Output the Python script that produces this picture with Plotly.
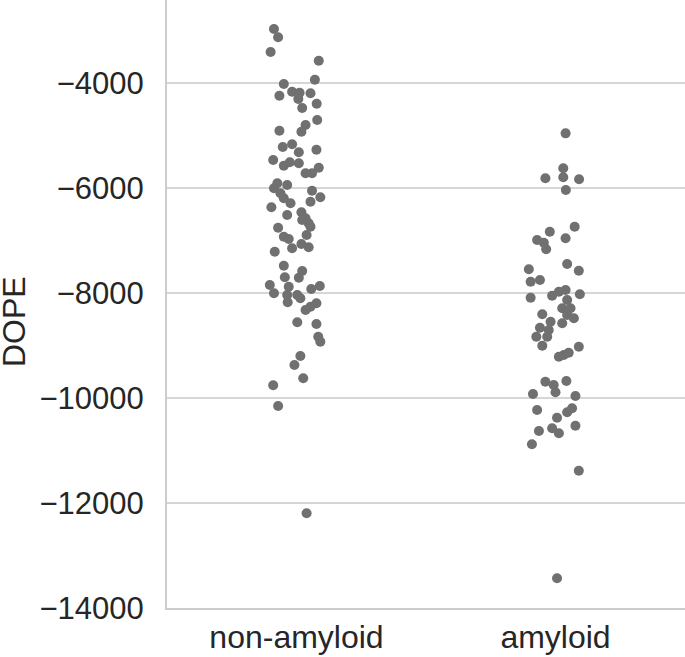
import plotly.graph_objects as go

categories = ["non-amyloid", "amyloid"]

nonamyloid_dope = [-2971, -3130, -3410, -3575, -3937, -4019, -4166, -4185, -4242, -4196,
                   -4305, -4394, -4476, -4705, -4800, -4928, -4909, -5219, -5168, -5320,
                   -5270, -5467, -5575, -5510, -5530, -5613, -5720, -5720, -5911, -5943,
                   -6006, -6101, -6196, -6291, -6051, -6177, -6261, -6368, -6514, -6463,
                   -6577, -6672, -6610, -6756, -6737, -6928, -6971, -6895, -7067, -7149,
                   -7130, -7213, -7480, -7581, -7709, -7701, -7848, -8006, -7880, -7924,
                   -7867, -8038, -8038, -8101, -8177, -8196, -8261, -8324, -8558, -8591,
                   -8833, -8928, -9200, -9372, -9625, -9758, -10152, -12196]
nonamyloid_jitter = [-0.087, -0.071, -0.100, 0.086, 0.071, -0.049, -0.017, 0.012, -0.066, 0.054,
                     0.007, 0.078, 0.022, 0.080, 0.035, 0.019, -0.066, -0.053, -0.017, 0.009,
                     0.077, -0.090, -0.049, -0.026, 0.009, 0.086, 0.035, 0.060, -0.074, -0.036,
                     -0.087, -0.062, -0.049, -0.023, 0.060, 0.092, 0.054, -0.097, -0.036, 0.019,
                     0.035, 0.047, 0.022, -0.071, 0.054, -0.049, -0.030, 0.039, 0.019, -0.017,
                     0.047, -0.084, -0.049, 0.022, 0.009, -0.045, -0.103, -0.087, -0.030, 0.057,
                     0.090, -0.036, 0.003, 0.015, -0.034, 0.077, 0.054, 0.035, 0.003, 0.077,
                     0.084, 0.092, 0.015, -0.008, 0.026, -0.090, -0.071, 0.039]

amyloid_dope = [-4959, -5625, -5796, -5815, -5834, -6038, -6737, -6832, -6990, -7042,
                -6958, -7168, -7448, -7549, -7575, -7785, -7752, -8090, -8051, -7975,
                -7943, -8025, -8133, -8291, -8291, -8419, -8482, -8406, -8547, -8577,
                -8661, -8705, -8832, -8832, -9004, -9023, -9213, -9181, -9137, -9690,
                -9752, -9676, -9924, -9892, -9962, -10229, -10196, -10272, -10375, -10528,
                -10629, -10577, -10672, -10882, -11385, -13434]
amyloid_jitter = [0.039, 0.030, 0.030, -0.039, 0.091, 0.040, 0.074, -0.022, -0.071, -0.045,
                  0.039, -0.036, 0.045, -0.103, 0.090, -0.096, -0.060, -0.096, -0.013, 0.013,
                  0.039, 0.094, 0.045, 0.026, 0.058, 0.045, 0.071, -0.051, -0.019, 0.026,
                  -0.060, -0.026, -0.032, -0.074, -0.051, 0.090, 0.013, 0.032, 0.051, -0.039,
                  -0.007, 0.042, -0.087, 0.000, 0.077, -0.071, 0.064, 0.045, 0.006, 0.077,
                  -0.064, -0.013, 0.013, -0.091, 0.090, 0.006]

y_tick_values = [-14000, -12000, -10000, -8000, -6000, -4000]
y_tick_labels = ["\u221214000", "\u221212000", "\u221210000", "\u22128000", "\u22126000", "\u22124000"]
y_axis_title = "DOPE"

groups = [(nonamyloid_dope, nonamyloid_jitter), (amyloid_dope, amyloid_jitter)]

fig = go.Figure()
for idx, (vals, jit) in enumerate(groups):
    fig.add_trace(go.Scatter(
        x=[idx + j for j in jit],
        y=vals,
        mode="markers",
        marker=dict(size=10, color="rgb(112,112,112)", line=dict(width=0)),
        showlegend=False,
        hoverinfo="y",
    ))

font_family = "Liberation Sans, Arial, sans-serif"
fig.update_layout(
    width=685, height=657,
    margin=dict(l=167, r=0, t=0, b=49, pad=0),
    paper_bgcolor="white", plot_bgcolor="white",
    font=dict(family=font_family, color="#262626", size=31),
)
fig.update_xaxes(
    range=[-0.5, 1.5],
    tickvals=[0, 1], ticktext=categories,
    showgrid=False, zeroline=False,
    showline=True, linecolor="#cccccc", linewidth=2,
    ticks="", ticklabelstandoff=0, automargin=False,
    tickfont=dict(size=32, family=font_family, color="#262626"),
)
fig.update_yaxes(
    range=[-14000, -2419],
    tickvals=y_tick_values, ticktext=y_tick_labels,
    showgrid=True, gridcolor="#d6d6d6", gridwidth=2,
    zeroline=False,
    showline=True, linecolor="#cccccc", linewidth=2,
    ticks="", ticklabelstandoff=15, automargin=False,
    tickfont=dict(size=31, family=font_family, color="#262626"),
)
fig.add_annotation(
    text=y_axis_title, textangle=-90,
    xref="paper", yref="paper", x=(14 - 167) / 518, y=(608 - 322) / 608,
    xanchor="center", yanchor="middle", showarrow=False,
    font=dict(size=32, family=font_family, color="#262626"),
)

fig.write_html("out.html", config={"displayModeBar": False},
               post_script="document.body.style.margin='0';document.body.style.overflow='hidden';")
